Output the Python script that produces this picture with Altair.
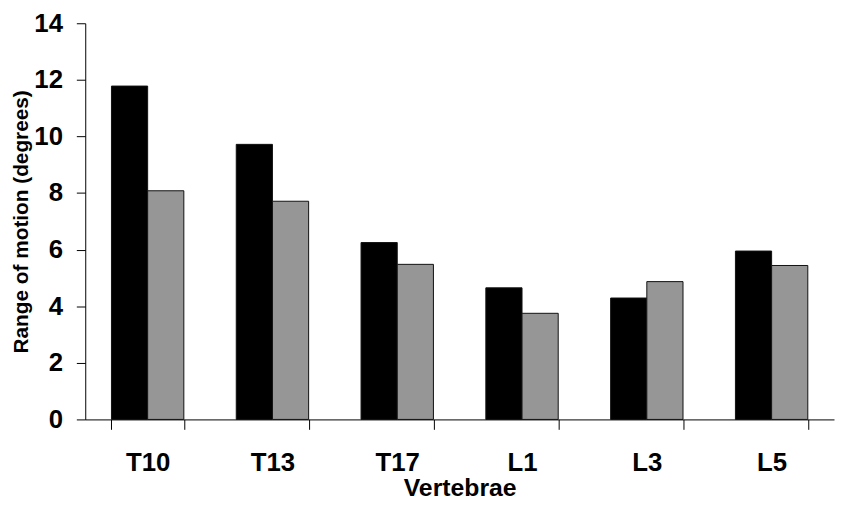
import altair as alt
import pandas as pd

vertebrae = ["T10", "T13", "T17", "L1", "L3", "L5"]
series = ["A", "B"]
black_vals = [11.78, 9.72, 6.25, 4.65, 4.29, 5.95]
gray_vals = [8.08, 7.71, 5.48, 3.75, 4.87, 5.44]
y_ticks = [0, 2, 4, 6, 8, 10, 12, 14]

rows = []
for i, v in enumerate(vertebrae):
    rows.append({"Vertebrae": v, "series": series[0], "value": black_vals[i]})
    rows.append({"Vertebrae": v, "series": series[1], "value": gray_vals[i]})
df = pd.DataFrame(rows)

FONT = "Liberation Sans"

chart = alt.Chart(df).mark_bar(stroke="#111111", strokeWidth=1).encode(
    x=alt.X(
        "Vertebrae:N",
        sort=vertebrae,
        scale=alt.Scale(paddingInner=0.42, paddingOuter=0.21),
        axis=alt.Axis(
            title="Vertebrae",
            labelAngle=0,
            domainColor="black",
            tickColor="black",
            tickSize=10,
            tickBand="extent",
            labelFont=FONT,
            labelFontWeight="bold",
            labelFontSize=26,
            labelColor="black",
            labelPadding=21,
            titleFont=FONT,
            titleFontWeight="bold",
            titleFontSize=25,
            titleColor="black",
            titlePadding=0,
        ),
    ),
    xOffset=alt.XOffset("series:N", sort=series,
                        scale=alt.Scale(paddingInner=0, paddingOuter=0)),
    y=alt.Y(
        "value:Q",
        scale=alt.Scale(domain=[0, 14], nice=False),
        axis=alt.Axis(
            title="Range of motion (degrees)",
            values=y_ticks,
            grid=False,
            domainColor="black",
            tickColor="black",
            tickSize=9,
            labelFont=FONT,
            labelFontWeight="bold",
            labelFontSize=26,
            labelColor="black",
            labelPadding=14,
            titleFont=FONT,
            titleFontWeight="bold",
            titleFontSize=21,
            titleColor="black",
            titlePadding=2,
        ),
    ),
    color=alt.Color(
        "series:N",
        scale=alt.Scale(domain=series, range=["#000000", "#969696"]),
        legend=None,
    ),
).properties(
    width=756,
    height=400,
    autosize=alt.AutoSizeParams(type="none"),
    padding={"left": 78, "top": 13, "right": 1, "bottom": 84},
).configure_view(stroke=None)

chart.save("out.html", embed_options={"renderer": "svg", "actions": False})
